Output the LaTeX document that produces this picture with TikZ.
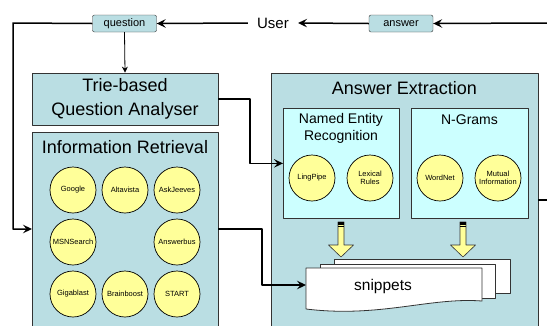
\documentclass[tikz,border=0pt]{standalone}
\usepackage{fontspec}
\setmainfont{Liberation Sans}
\usetikzlibrary{arrows.meta,positioning}
\definecolor{panelteal}{rgb}{0.73,0.87,0.89}
\definecolor{innercyan}{rgb}{0.8,1,1}
\definecolor{enginey}{rgb}{1,1,0.6}
\definecolor{edgegray}{rgb}{0.2,0.2,0.2}

\tikzset{
  panel/.style={draw=edgegray, fill=panelteal, line width=0.8pt, inner sep=0},
  subpanel/.style={draw=edgegray, fill=innercyan, line width=0.8pt, inner sep=0},
  engine/.style={circle, draw=black, fill=enginey, line width=0.7pt, minimum size=46pt,
    inner sep=0, align=center, font=\fontsize{7.5}{8.5}\selectfont},
  tag/.style={draw=edgegray, fill=panelteal, rounded corners=2pt, minimum width=64pt,
    minimum height=17pt, inner sep=0, font=\fontsize{11}{12}\selectfont},
  bigtitle/.style={align=center, font=\fontsize{18}{24}\selectfont},
  subtitle/.style={align=center, font=\fontsize{14}{17}\selectfont},
  link/.style={-{Stealth[length=9pt,width=8.5pt,inset=3.5pt]}, line width=1.5pt}
}

\begin{document}
\begin{tikzpicture}[x=1pt,y=-1pt,line join=round]
\useasboundingbox (0,0) rectangle (547,325);
\clip (0,0) rectangle (547,325);
% top row
\node[tag] (question) at (124.5,23.5) {question};
\node[inner xsep=9pt, font=\fontsize{15}{16}\selectfont] (user) at (273,23) {User};
\node[tag] (answer) at (401,23.5) {answer};
% question analyser
\node[panel, bigtitle, minimum width=186pt, minimum height=52pt] (trie) at (125,99) {Trie-based\\Question Analyser};
% information retrieval
\node[panel, minimum width=186pt, minimum height=220pt, anchor=north west] (ir) at (32,132) {};
\node[bigtitle] (irtitle) at (125,147) {Information Retrieval};
\foreach \name/\lbl/\cx/\cy in {google/Google/73/190, altavista/Altavista/125/190,
    askjeeves/AskJeeves/177/190, msnsearch/MSNSearch/73/242, answerbus/Answerbus/177/242,
    gigablast/Gigablast/73/294, brainboost/Brainboost/125/294, start/START/177/294}
  \node[engine] (\name) at (\cx,\cy) {\lbl};
% answer extraction
\node[panel, minimum width=267pt, minimum height=260pt, anchor=north west] (ae) at (271,73) {};
\node[bigtitle] (aetitle) at (404.5,88) {Answer Extraction};
\node[subpanel, minimum width=116pt, minimum height=110pt, anchor=north west] (ner) at (283,108) {};
\node[subtitle] (nertitle) at (341,128.5) {Named Entity\\Recognition};
\node[subpanel, minimum width=117pt, minimum height=110pt, anchor=north west] (ngrams) at (411,108) {};
\node[subtitle] (ngtitle) at (469.5,120) {N-Grams};
\foreach \name/\lbl/\cx in {lingpipe/LingPipe/312, lexical/{Lexical\\Rules}/370,
    wordnet/WordNet/440, mutual/{Mutual\\Information}/498}
  \node[engine] (\name) at (\cx,178) {\lbl};
% block arrows into the snippets
\foreach \ax in {341,463} {
  \filldraw[fill=enginey, draw=edgegray, line width=0.6pt] (\ax-3,222) -- (\ax+3,222) -- (\ax+3,245)
    -- (\ax+12.5,245) -- (\ax,257) -- (\ax-12.5,245) -- (\ax-3,245) -- cycle;
  \fill[black] (\ax-3,222) rectangle (\ax+3,224.5);
  \fill[black] (\ax-3,226) rectangle (\ax+3,227);
}
% snippets
\filldraw[fill=white, draw=edgegray, line width=0.8pt] (334,259) rectangle (510,293);
\filldraw[fill=white, draw=edgegray, line width=0.8pt] (320,264) rectangle (495,298);
\filldraw[fill=white, draw=edgegray, line width=0.8pt] (306,268) -- (482,268) -- (482,301)
  .. controls (430,297) and (380,318) .. (306,309) -- cycle;
\node[font=\fontsize{15.5}{17}\selectfont] (snippets) at (383,286) {snippets};
% connectors
\coordinate (leftbend) at (13,23);
\coordinate (irin) at (32,229);
\coordinate (irout) at (218,229);
\coordinate (irbend) at (262,229);
\coordinate (snipin) at (306,285);
\coordinate (triebend) at (250,99);
\coordinate (rtop) at (547,23);
\coordinate (aeout) at (538,200);
\coordinate (rmid) at (547,200);
\draw[link] (user.west) -- (question.east);
\draw[link] (answer.west) -- (user.east);
\draw[link] (rtop) -- (answer.east);
\draw[link] (question.west) -- (leftbend) |- (irin);
\draw[-{Stealth[length=6pt,width=6pt,inset=2pt]}, line width=0.8pt] (question.south) -- (trie.north);
\draw[link] (trie.east) -- (triebend) |- (ner.west);
\draw[link] (irout) -- (irbend) |- (snipin);
\draw[line width=1.5pt] (aeout) -- (rmid);
\end{tikzpicture}
\end{document}
